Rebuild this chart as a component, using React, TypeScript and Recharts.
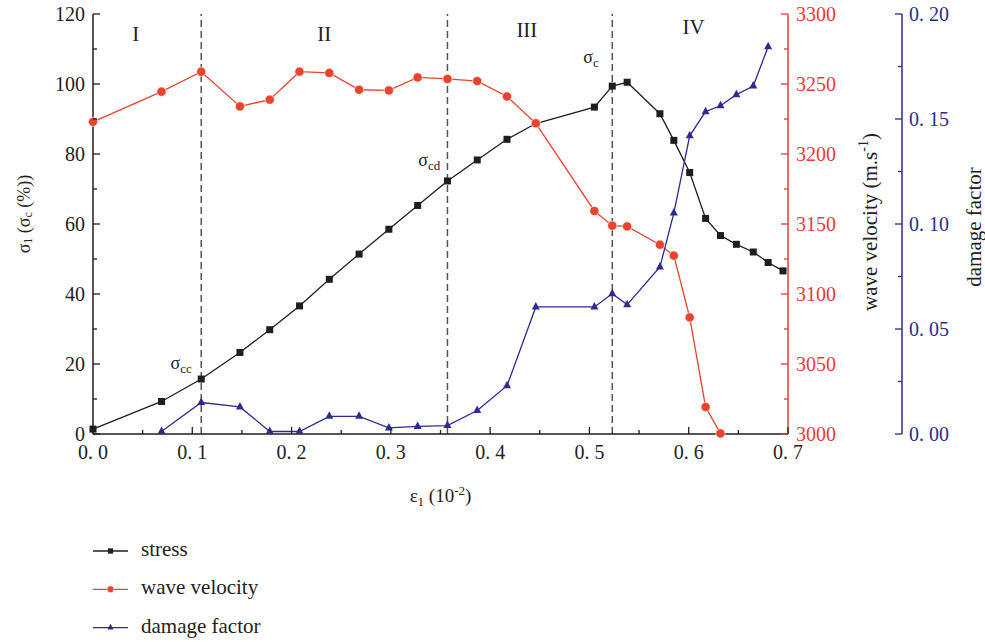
import React from 'react';
import { ComposedChart, Line, XAxis, YAxis, ReferenceLine, ReferenceDot, Legend } from 'recharts';

// ε1 (10^-2) sampling points shared by all three series
const strain = [0, 0.069, 0.109, 0.148, 0.178, 0.208, 0.238, 0.268, 0.298, 0.327, 0.357, 0.387, 0.417,
  0.446, 0.505, 0.523, 0.538, 0.571, 0.585, 0.601, 0.617, 0.632, 0.648, 0.665, 0.68, 0.695];

// σ1 as % of σc
const stress = [1.4, 9.3, 15.7, 23.3, 29.8, 36.6, 44.2, 51.4, 58.5, 65.3, 72.3, 78.3, 84.2,
  88.7, 93.4, 99.4, 100.5, 91.5, 83.9, 74.7, 61.6, 56.7, 54.2, 52.0, 49.0, 46.6];

// m/s
const waveVelocity = [3223, 3244.5, 3258.8, 3234, 3238.8, 3258.8, 3257.9, 3245.9, 3245.4, 3254.7, 3253.6, 3252.1, 3241.1,
  3221.9, 3159.3, 3148.8, 3148.3, 3135.2, 3127.4, 3083.3, 3019.3, 3000.4, null, null, null, null];

const damage = [null, 0.0012, 0.015, 0.0129, 0.0012, 0.0012, 0.0084, 0.0084, 0.0029, 0.0036, 0.004, 0.0112, 0.023,
  0.0605, 0.0605, 0.0668, 0.0616, 0.0795, 0.1052, 0.142, 0.1535, 0.1563, 0.1616, 0.1657, 0.1844, null];

const xTicks = [0, 0.05, 0.1, 0.15, 0.2, 0.25, 0.3, 0.35, 0.4, 0.45, 0.5, 0.55, 0.6, 0.65, 0.7];
const stressTicks = [0, 10, 20, 30, 40, 50, 60, 70, 80, 90, 100, 110, 120];
const velocityTicks = [3000, 3025, 3050, 3075, 3100, 3125, 3150, 3175, 3200, 3225, 3250, 3275, 3300];
const damageTicks = [0, 0.025, 0.05, 0.075, 0.1, 0.125, 0.15, 0.175, 0.2];

const legendOrder = ['stress', 'velocity', 'damage'];

const stageBounds = [0.109, 0.357, 0.523];
const stageLabels = [
  { text: 'I', x: 0.043, y: 112.4 },
  { text: 'II', x: 0.233, y: 112.4 },
  { text: 'III', x: 0.437, y: 113.5 },
  { text: 'IV', x: 0.605, y: 114.3 },
];
const pointLabels = [
  { sub: 'cc', x: 0.078, y: 18.6 },
  { sub: 'cd', x: 0.3276, y: 76.5 },
  { sub: 'c', x: 0.4937, y: 106 },
];

const data = strain.map((s, i) => ({
  strain: s,
  stress: stress[i],
  velocity: waveVelocity[i],
  damage: damage[i],
}));

const FONT = '"Liberation Serif", "DejaVu Serif", serif';
const BLACK = '#1e1e1e';
const RED = '#e8432d';
const RED_AXIS = '#e83b3b';
const BLUE = '#2f2b8e';
const GRAY = '#555';

const fmtX = (v: number) => `0. ${Math.round(v * 10)}`;
const fmtD = (v: number) => `0. ${String(Math.round(v * 100)).padStart(2, '0')}`;

function XTick({ x, y, payload }: any) {
  const v = payload.value;
  const major = Math.round(v * 100) % 10 === 0;
  return (
    <g>
      <line x1={x} x2={x} y1={y} y2={y - (major ? 7 : 4)} stroke={BLACK} strokeWidth={1.3} />
      {major && (
        <text x={x} y={y + 25} textAnchor="middle" fontFamily={FONT} fontSize={20} fill="#222">{fmtX(v)}</text>
      )}
    </g>
  );
}

function StressTick({ x, y, payload }: any) {
  const v = payload.value;
  const major = v % 20 === 0;
  return (
    <g>
      <line x1={x} x2={x + (major ? 7 : 4)} y1={y} y2={y} stroke={BLACK} strokeWidth={1.3} />
      {major && (
        <text x={x - 8} y={y} dy="0.33em" textAnchor="end" fontFamily={FONT} fontSize={20} fill="#222">{v}</text>
      )}
    </g>
  );
}

function VelocityTick({ x, y, payload }: any) {
  const v = payload.value;
  const major = v % 50 === 0;
  return (
    <g>
      <line x1={x} x2={x - (major ? 7 : 4)} y1={y} y2={y} stroke={RED_AXIS} strokeWidth={1.3} />
      {major && (
        <text x={x + 8} y={y} dy="0.35em" textAnchor="start" fontFamily={FONT} fontSize={20} fill={RED_AXIS}>{v}</text>
      )}
    </g>
  );
}

function DamageTick({ x, y, payload }: any) {
  const v = payload.value;
  const major = Math.round(v * 1000) % 50 === 0;
  return (
    <g>
      <line x1={x} x2={x - (major ? 7 : 4)} y1={y} y2={y} stroke={BLUE} strokeWidth={1.3} />
      {major && (
        <text x={x + 7} y={y} dy="0.35em" textAnchor="start" fontFamily={FONT} fontSize={20} fill={BLUE}>{fmtD(v)}</text>
      )}
    </g>
  );
}

// axis titles
const stressTitle = ({ viewBox }: any) => {
  const cx = viewBox.x + 24;
  const cy = viewBox.y + 200;
  return (
    <text x={cx} y={cy} transform={`rotate(-90, ${cx}, ${cy})`} textAnchor="middle" dominantBaseline="central"
      fontFamily={FONT} fontSize={18} fill="#222">
      σ<tspan dy={4} fontSize={12}>1</tspan><tspan dy={-4}> (σ</tspan>
      <tspan dy={4} fontSize={12}>c</tspan><tspan dy={-4}> (%))</tspan>
    </text>
  );
};

const velocityTitle = ({ viewBox }: any) => {
  const cx = viewBox.x + 82;
  const cy = 222;
  return (
    <text x={cx} y={cy} transform={`rotate(-90, ${cx}, ${cy})`} textAnchor="middle" dominantBaseline="central"
      fontFamily={FONT} fontSize={21} fill="#222">
      wave velocity (m.s<tspan dy={-7} fontSize={14}>-1</tspan><tspan dy={7}>)</tspan>
    </text>
  );
};

const damageTitle = ({ viewBox }: any) => {
  const cx = viewBox.x + 72;
  const cy = 227;
  return (
    <text x={cx} y={cy} transform={`rotate(-90, ${cx}, ${cy})`} textAnchor="middle" dominantBaseline="central"
      fontFamily={FONT} fontSize={21} fill="#222">
      damage factor
    </text>
  );
};

const strainTitle = ({ viewBox }: any) => (
  <text x={viewBox.x + viewBox.width / 2} y={viewBox.y + 68} textAnchor="middle" fontFamily={FONT} fontSize={19} fill="#222">
    ε<tspan dy={4} fontSize={13}>1</tspan><tspan dy={-4}> (10</tspan>
    <tspan dy={-7} fontSize={13}>-2</tspan><tspan dy={7}>)</tspan>
  </text>
);

// markers
function marker(kind: string, cx: number, cy: number, key: string, scale = 1) {
  if (kind === 'stress') {
    const s = 7 * scale;
    return <rect key={key} x={cx - s / 2} y={cy - s / 2} width={s} height={s} fill={BLACK} />;
  }
  if (kind === 'velocity') {
    return <circle key={key} cx={cx} cy={cy} r={4.6 * scale} fill={RED} stroke="#fff" strokeWidth={0.6} />;
  }
  const h = 7.5 * scale;
  const w = 8 * scale;
  return (
    <polygon key={key} fill={BLUE}
      points={`${cx},${cy - (2 * h) / 3} ${cx - w / 2},${cy + h / 3} ${cx + w / 2},${cy + h / 3}`} />
  );
}

const dotFor = (kind: string) => (p: any) => {
  const key = `${kind}-${p.index}`;
  if (p.cx == null || p.cy == null || p.value == null) return <g key={key} />;
  return marker(kind, p.cx, p.cy, key);
};

const renderLegend = ({ payload = [] }: any) => {
  const items = [...payload].sort(
    (a: any, b: any) => legendOrder.indexOf(a.dataKey) - legendOrder.indexOf(b.dataKey),
  );
  return (
    <svg width={300} height={110} style={{ display: 'block' }}>
      {items.map((entry: any, i: number) => {
        const cy = 16 + i * 38.3;
        return (
          <g key={entry.dataKey}>
            <line x1={8} x2={43} y1={cy} y2={cy} stroke={entry.color} strokeWidth={1.3} />
            {marker(entry.dataKey, 25.5, cy, `lg-${i}`, 0.75)}
            <text x={56} y={cy + 5} fontFamily={FONT} fontSize={21} fill="#222">{entry.value}</text>
          </g>
        );
      })}
    </svg>
  );
};

export default function App() {
  return (
    <div style={{ position: 'absolute', left: 0, top: 0, width: 985, height: 642, background: '#fff' }}>
      <ComposedChart width={985} height={642} data={data} margin={{ top: 14, right: 0, bottom: 128, left: 0 }}>
        <XAxis
          xAxisId="x"
          dataKey="strain"
          type="number"
          domain={[0, 0.7]}
          ticks={xTicks}
          interval={0}
          height={80}
          tickSize={0}
          tickMargin={0}
          tickLine={false}
          tick={<XTick />}
          axisLine={{ stroke: BLACK, strokeWidth: 1.5 }}
          label={strainTitle}
        />
        <YAxis
          yAxisId="s"
          type="number"
          domain={[0, 120]}
          ticks={stressTicks}
          interval={0}
          width={93}
          tickSize={0}
          tickMargin={0}
          tickLine={false}
          tick={<StressTick />}
          axisLine={{ stroke: BLACK, strokeWidth: 1.5 }}
          label={stressTitle}
        />
        <YAxis
          yAxisId="v2"
          orientation="right"
          type="number"
          domain={[0, 0.2]}
          ticks={damageTicks}
          interval={0}
          width={83}
          tickSize={0}
          tickMargin={0}
          tickLine={false}
          tick={<DamageTick />}
          axisLine={{ stroke: BLUE, strokeWidth: 1.5 }}
          label={damageTitle}
        />
        <YAxis
          yAxisId="v1"
          orientation="right"
          type="number"
          domain={[3000, 3300]}
          ticks={velocityTicks}
          interval={0}
          width={114}
          tickSize={0}
          tickMargin={0}
          tickLine={false}
          tick={<VelocityTick />}
          axisLine={{ stroke: RED_AXIS, strokeWidth: 1.5 }}
          label={velocityTitle}
        />

        {stageBounds.map((b) => (
          <ReferenceLine key={b} xAxisId="x" yAxisId="s" x={b} stroke={GRAY} strokeWidth={1.5} strokeDasharray="7 4" />
        ))}

        <Line xAxisId="x" yAxisId="s" dataKey="stress" name="stress" stroke={BLACK} strokeWidth={1.3}
          dot={dotFor('stress')} activeDot={false} isAnimationActive={false} />
        <Line xAxisId="x" yAxisId="v1" dataKey="velocity" name="wave velocity" stroke={RED} strokeWidth={1.3}
          dot={dotFor('velocity')} activeDot={false} isAnimationActive={false} />
        <Line xAxisId="x" yAxisId="v2" dataKey="damage" name="damage factor" stroke={BLUE} strokeWidth={1.3}
          dot={dotFor('damage')} activeDot={false} isAnimationActive={false} />

        {stageLabels.map((s) => (
          <ReferenceDot key={s.text} xAxisId="x" yAxisId="s" x={s.x} y={s.y} r={0}
            shape={(p: any) => (
              <text x={p.cx} y={p.cy} textAnchor="middle" fontFamily={FONT} fontSize={21} fill="#222">{s.text}</text>
            )} />
        ))}
        {pointLabels.map((s) => (
          <ReferenceDot key={s.sub} xAxisId="x" yAxisId="s" x={s.x} y={s.y} r={0}
            shape={(p: any) => (
              <text x={p.cx} y={p.cy} textAnchor="start" fontFamily={FONT} fontSize={18} fill="#222">
                σ<tspan dy={4} fontSize={13}>{s.sub}</tspan>
              </text>
            )} />
        ))}

        <Legend layout="vertical" align="center" verticalAlign="middle" content={renderLegend}
          wrapperStyle={{ left: 85, top: 535, width: 300, height: 110 }} />
      </ComposedChart>
    </div>
  );
}
